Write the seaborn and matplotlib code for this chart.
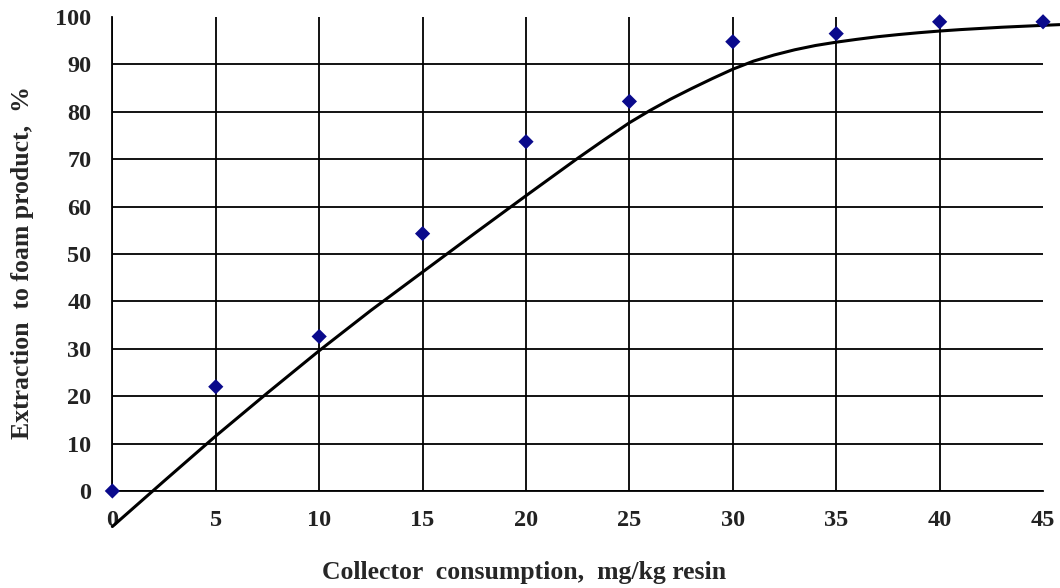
import matplotlib
matplotlib.use("Agg")
import matplotlib.pyplot as plt
import seaborn as sns
import pandas as pd

# measured points (blue diamonds)
consumption = [0, 5, 10, 15, 20, 25, 30, 35, 40, 45]
extraction = [0, 22.0, 32.6, 54.3, 73.7, 82.2, 94.8, 96.5, 99.0, 99.0]

# fitted curve
curve_x = [0, 2.5, 5, 7.5, 10, 12.5, 15, 17.5, 20, 22.5, 23.75, 25, 26, 27,
           28, 29, 30, 31, 32, 33, 34, 35, 36, 37, 38, 39, 40, 41, 42, 43,
           44, 45, 45.8]
curve_y = [-7.5, 2.1, 11.6, 20.7, 29.6, 38.1, 46.2, 54.3, 62.3, 70.2, 74.0,
           77.7, 80.3, 82.7, 84.9, 87.0, 89.0, 90.7, 92.0, 93.1, 94.0, 94.7,
           95.3, 95.85, 96.3, 96.7, 97.05, 97.35, 97.6, 97.85, 98.05, 98.25,
           98.4]

x_ticks = [0, 5, 10, 15, 20, 25, 30, 35, 40, 45]
y_ticks = [0, 10, 20, 30, 40, 50, 60, 70, 80, 90, 100]

sns.set_style("white")
plt.rcParams['font.family'] = ['Liberation Serif', 'DejaVu Serif']
plt.rcParams['font.weight'] = 'bold'

points = pd.DataFrame({'x': consumption, 'y': extraction})
curve = pd.DataFrame({'x': curve_x, 'y': curve_y})

fig = plt.figure(figsize=(10.6, 5.88), dpi=100)
ax = fig.add_axes([0.106, 0.165, 0.878, 0.806])

ax.set_xlim(0, 45)
ax.set_ylim(0, 100)
ax.set_xticks(x_ticks)
ax.set_yticks(y_ticks)
ax.grid(True, color='black', linewidth=1.3)
ax.set_axisbelow(True)
ax.get_ygridlines()[-1].set_visible(False)
ax.get_xgridlines()[-1].set_visible(False)

sns.lineplot(data=curve, x='x', y='y', sort=False, estimator=None,
             color='black', linewidth=2.2, ax=ax, clip_on=False, zorder=3)
sns.scatterplot(data=points, x='x', y='y', marker='D', s=60, color='#0a0a8c',
                edgecolor='none', ax=ax, clip_on=False, zorder=4)

for side in ['top', 'right']:
    ax.spines[side].set_visible(False)
for side in ['left', 'bottom']:
    ax.spines[side].set_color('black')
    ax.spines[side].set_linewidth(1.3)

ax.tick_params(axis='both', direction='out', length=6, width=1.3,
               color='black', labelsize=17.5, labelcolor='#222222')
ax.tick_params(axis='y', pad=9)
ax.tick_params(axis='x', pad=8)
for lbl in ax.get_xticklabels() + ax.get_yticklabels():
    lbl.set_fontweight('bold')

ax.set_xlabel('Collector  consumption,  mg/kg resin', fontsize=18.5,
              fontweight='bold')
ax.set_ylabel('Extraction  to foam product,  %', fontsize=18.5,
              fontweight='bold')
ax.xaxis.label.set_verticalalignment('center')
ax.yaxis.label.set_verticalalignment('center')
ax.xaxis.set_label_coords(0.4425, -0.171)
ax.yaxis.set_label_coords(-0.0967, 0.483)

fig.savefig('out.png', dpi=100)
